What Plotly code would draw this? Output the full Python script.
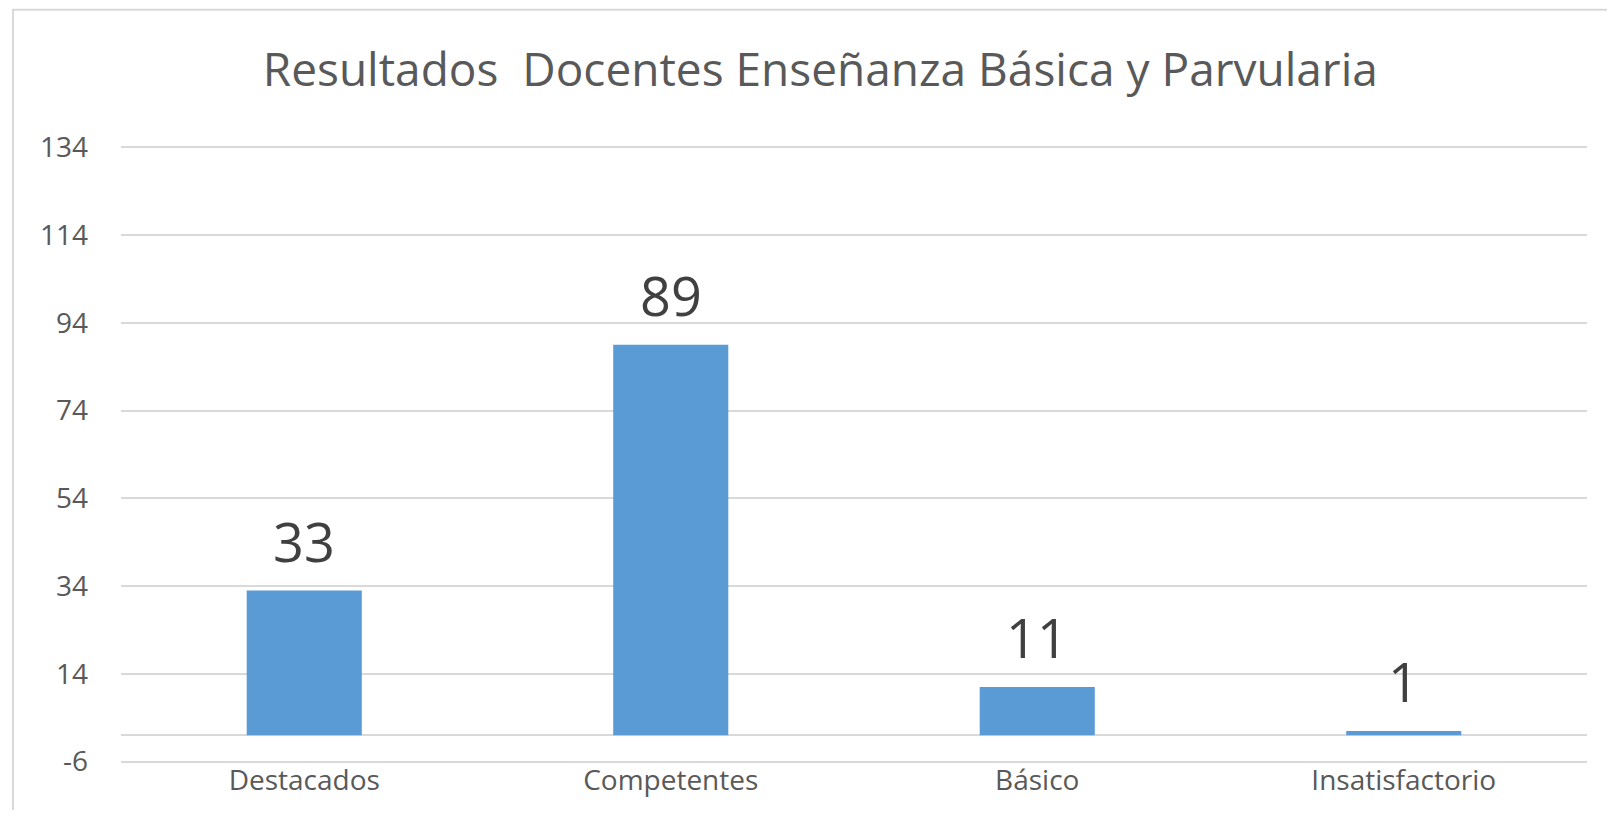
import plotly.graph_objects as go

categories = ["Destacados", "Competentes", "Básico", "Insatisfactorio"]
values = [33, 89, 11, 1]
y_ticks = [-6, 14, 34, 54, 74, 94, 114, 134]

TITLE = "Resultados  Docentes Enseñanza Básica y Parvularia"
BAR_COLOR = "#5B9BD5"
GRID = "#D9D9D9"
FONT = "Open Sans, Noto Sans, sans-serif"

# the page body adds an 8px margin, so the figure is 16px smaller than the window
W, H = 1599, 802

fig = go.Figure(go.Bar(
    x=categories,
    y=values,
    marker_color=BAR_COLOR,
    marker_line_width=0,
    hoverinfo="x+y",
))

# data labels above each bar
for cat, v in zip(categories, values):
    fig.add_annotation(
        x=cat, y=v, text=str(v),
        showarrow=False, yanchor="bottom", yshift=11,
        font=dict(family=FONT, size=54, color="#404040"),
    )

# light frame of the chart area
fig.add_shape(
    type="rect", xref="paper", yref="paper",
    x0=-0.0737, x1=1.08, y0=-0.3, y1=1.2138,
    line=dict(color=GRID, width=2), layer="below",
)

fig.update_layout(
    width=W, height=H,
    margin=dict(l=113, r=20, t=135, b=38),
    paper_bgcolor="white",
    plot_bgcolor="white",
    bargap=0.686,
    showlegend=False,
    title=dict(
        text=TITLE,
        x=0.508, xref="container", xanchor="center",
        y=1 - 62 / H, yref="container", yanchor="middle",
        font=dict(family=FONT, size=46, color="#595959"),
    ),
    xaxis=dict(
        showgrid=False, showline=False, ticks="",
        ticklabelstandoff=-5,
        tickfont=dict(family=FONT, size=28, color="#595959"),
    ),
    yaxis=dict(
        range=[-7, 135],
        tickmode="array", tickvals=y_ticks,
        ticktext=[str(t) for t in y_ticks],
        showgrid=True, gridcolor=GRID, gridwidth=2,
        zeroline=True, zerolinecolor=GRID, zerolinewidth=2,
        showline=False, ticks="",
        ticklabelstandoff=32,
        tickfont=dict(family=FONT, size=28, color="#595959"),
    ),
)

fig.write_html("out.html")
